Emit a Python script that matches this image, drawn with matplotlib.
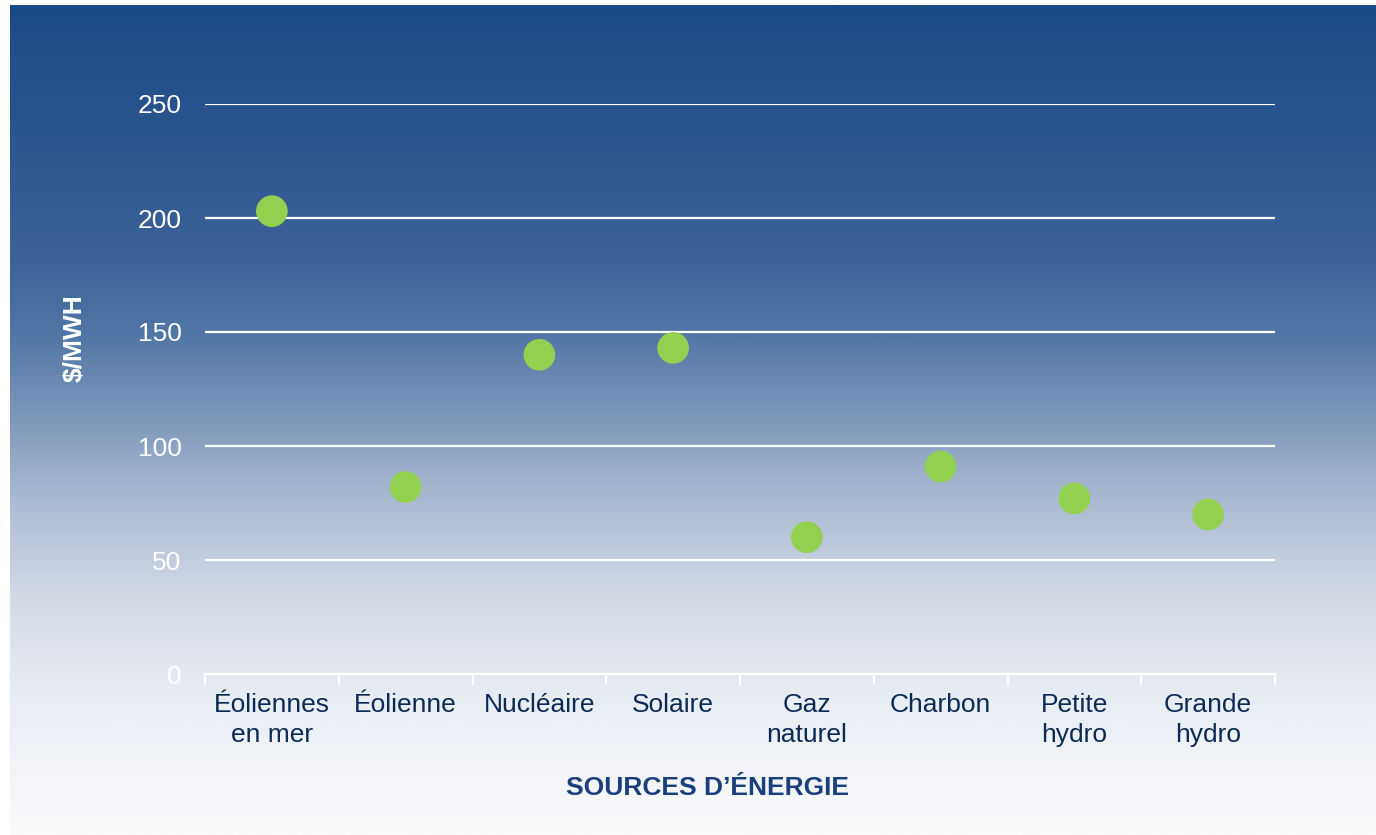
import numpy as np
import matplotlib.pyplot as plt
from matplotlib.colors import LinearSegmentedColormap

plt.rcParams['font.family'] = ['Liberation Sans', 'DejaVu Sans']

# Data
sources = ["Éoliennes\nen mer", "Éolienne", "Nucléaire", "Solaire", "Gaz\nnaturel",
           "Charbon", "Petite\nhydro", "Grande\nhydro"]
cost = [203, 82, 140, 143, 60, 91, 77, 70]
y_ticks = [0, 50, 100, 150, 200, 250]

W, H = 1376, 835
fig = plt.figure(figsize=(W / 100, H / 100), dpi=100)
fig.patch.set_facecolor("white")

# gradient background (dark blue at top to near white at bottom)
stops = [(0.0, "#1a4a86"), (0.3, "#3a6298"), (0.4, "#5178a7"), (0.5, "#8098bc"),
         (0.6, "#acbbd2"), (0.72, "#d4dbe7"), (0.84, "#e9edf4"), (1.0, "#fbfbfd")]
cmap = LinearSegmentedColormap.from_list("bg", stops)
bg = fig.add_axes([10 / W, 0, 1 - 10 / W, 1 - 5 / H])
bg.imshow(np.linspace(0, 1, 512).reshape(-1, 1), aspect="auto", cmap=cmap,
          extent=[0, 1, 0, 1], origin="upper")
bg.set_axis_off()

# plot area
ax = fig.add_axes([205 / W, 1 - 674 / H, 1070 / W, 570 / H])
ax.patch.set_alpha(0)
x = np.arange(len(sources))
ax.set_xlim(-0.5, len(sources) - 0.5)
ax.set_ylim(0, 250)

for v in y_ticks[1:]:
    ax.axhline(v, color="white", lw=1.6, zorder=1)

ax.scatter(x, cost, s=520, color="#92d050", zorder=3, edgecolors="none", clip_on=False)

for s in ["top", "right", "left"]:
    ax.spines[s].set_visible(False)
ax.spines["bottom"].set_color("white")
ax.spines["bottom"].set_linewidth(1.6)

ax.set_yticks(y_ticks)
ax.set_yticklabels([str(v) for v in y_ticks], color="white", fontsize=19)
ax.tick_params(axis="y", length=0, pad=17)

ax.set_xticks(x)
ax.set_xticklabels(sources, color="#0c2a56", fontsize=19, linespacing=1.3)
ax.set_xticks(np.arange(len(sources) + 1) - 0.5, minor=True)
ax.tick_params(axis="x", which="major", length=0, pad=14)
ax.tick_params(axis="x", which="minor", length=8, width=1.6, color="white")

fig.text(75 / W, 1 - 338 / H, "$/MWH", rotation=90, ha="center", va="center",
         color="white", fontsize=19, fontweight="bold")
fig.text(707 / W, 1 - 788 / H, "SOURCES D’ÉNERGIE", ha="center", va="center",
         color="#1a3f7c", fontsize=19, fontweight="bold")

fig.savefig("out.png", dpi=100)
